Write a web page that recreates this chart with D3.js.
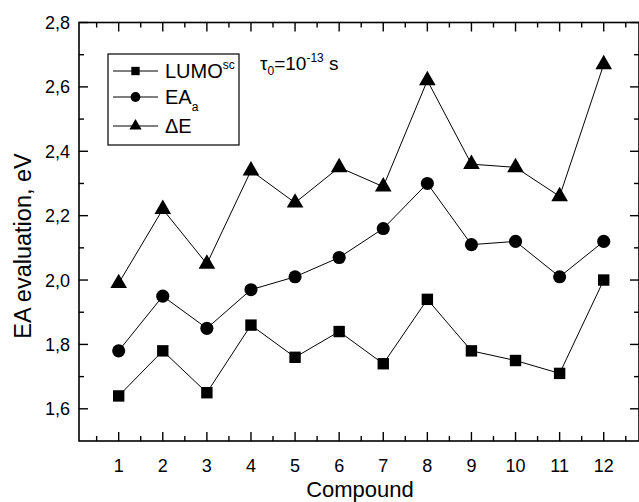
<!DOCTYPE html>
<html>
<head>
<meta charset="utf-8">
<script src="https://cdn.jsdelivr.net/npm/d3@7"></script>
<style>
  html, body { margin: 0; padding: 0; background: #fff; }
  svg { display: block; font-family: Arial, "Liberation Sans", sans-serif; }
</style>
</head>
<body>
<svg id="chart" width="639" height="502"></svg>
<script>
// Compound numbers along the x axis
const compounds = [1, 2, 3, 4, 5, 6, 7, 8, 9, 10, 11, 12];
// LUMO^sc estimates, eV
const lumoSc = [1.64, 1.78, 1.65, 1.86, 1.76, 1.84, 1.74, 1.94, 1.78, 1.75, 1.71, 2.00];
// EA_a estimates, eV
const eaA = [1.78, 1.95, 1.85, 1.97, 2.01, 2.07, 2.16, 2.30, 2.11, 2.12, 2.01, 2.12];
// ΔE estimates, eV
const deltaE = [1.99, 2.22, 2.05, 2.34, 2.24, 2.35, 2.29, 2.62, 2.36, 2.35, 2.26, 2.67];
// Tick values
const yTicks = [1.6, 1.8, 2.0, 2.2, 2.4, 2.6, 2.8];

const svg = d3.select("#chart");
const plotL = 79, plotR = 639, plotT = 22.5, plotB = 441;

const x = d3.scaleLinear().domain([0.1, 12.8]).range([plotL, plotR]);
const y = d3.scaleLinear().domain([1.5, 2.8]).range([plotB, plotT]);
const fmt = v => d3.format(".1f")(v).replace(".", ",");

const g = svg.append("g");

// Frame
g.append("rect").attr("x", plotL).attr("y", plotT)
  .attr("width", plotR - plotL).attr("height", plotB - plotT)
  .attr("fill", "none").attr("stroke", "#000").attr("stroke-width", 1.6);

// X ticks (major at integers, minor at halves), inward on bottom and top
const xMajor = compounds;
const xMinor = d3.range(0.5, 12.8, 1);
[[xMajor, 9], [xMinor, 5]].forEach(([vals, len]) => {
  vals.forEach(v => {
    g.append("line").attr("x1", x(v)).attr("x2", x(v))
      .attr("y1", plotB).attr("y2", plotB - len).attr("stroke", "#000").attr("stroke-width", 1.4);
    g.append("line").attr("x1", x(v)).attr("x2", x(v))
      .attr("y1", plotT).attr("y2", plotT + len).attr("stroke", "#000").attr("stroke-width", 1.4);
  });
});
// Y ticks (major every 0.2, minor between)
const yMinor = d3.range(1.7, 2.8, 0.2);
[[yTicks, 9], [yMinor, 5]].forEach(([vals, len]) => {
  vals.forEach(v => {
    g.append("line").attr("x1", plotL).attr("x2", plotL + len)
      .attr("y1", y(v)).attr("y2", y(v)).attr("stroke", "#000").attr("stroke-width", 1.4);
    g.append("line").attr("x1", plotR).attr("x2", plotR - len)
      .attr("y1", y(v)).attr("y2", y(v)).attr("stroke", "#000").attr("stroke-width", 1.4);
  });
});

// Tick labels
g.selectAll("text.xl").data(xMajor).join("text")
  .attr("x", d => x(d)).attr("y", plotB + 31)
  .attr("text-anchor", "middle").attr("font-size", 18).text(d => d);
g.selectAll("text.yl").data(yTicks).join("text")
  .attr("x", plotL - 9).attr("y", d => y(d) + 6.5)
  .attr("text-anchor", "end").attr("font-size", 18).text(fmt);

// Axis titles
g.append("text").attr("x", 360).attr("y", 497)
  .attr("text-anchor", "middle").attr("font-size", 22).text("Compound");
g.append("text").attr("transform", "translate(30.5,246) rotate(-90)")
  .attr("text-anchor", "middle").attr("font-size", 23.5).text("EA evaluation, eV");

// Marker shapes
const sym = {
  square: d3.symbol().type(d3.symbolSquare).size(130),
  circle: d3.symbol().type(d3.symbolCircle).size(135),
  triangle: d3.symbol().type(d3.symbolTriangle).size(120)
};

const series = [
  { name: "LUMO", values: lumoSc, shape: "square" },
  { name: "EA", values: eaA, shape: "circle" },
  { name: "dE", values: deltaE, shape: "triangle" }
];

const line = d3.line().x((d, i) => x(compounds[i])).y(d => y(d));

series.forEach(s => {
  g.append("path").attr("d", line(s.values))
    .attr("fill", "none").attr("stroke", "#000").attr("stroke-width", 1);
  g.selectAll(null).data(s.values).join("path")
    .attr("transform", (d, i) => `translate(${x(compounds[i])},${y(d)})`)
    .attr("d", sym[s.shape]()).attr("fill", "#000");
});

// Legend
const lg = g.append("g");
lg.append("rect").attr("x", 108).attr("y", 54).attr("width", 131).attr("height", 91)
  .attr("fill", "#fff").attr("stroke", "#000").attr("stroke-width", 1.2);
const legRows = [
  { shape: "square", y: 71 },
  { shape: "circle", y: 97 },
  { shape: "triangle", y: 126 }
];
const legSize = { square: 70, circle: 75, triangle: 65 };
const legType = { square: d3.symbolSquare, circle: d3.symbolCircle, triangle: d3.symbolTriangle };
legRows.forEach(r => {
  lg.append("line").attr("x1", 113).attr("x2", 158).attr("y1", r.y).attr("y2", r.y)
    .attr("stroke", "#000").attr("stroke-width", 1);
  lg.append("path").attr("transform", `translate(135.5,${r.y})`)
    .attr("d", d3.symbol().type(legType[r.shape]).size(legSize[r.shape])())
    .attr("fill", "#000");
});
const t1 = lg.append("text").attr("x", 165).attr("y", 78).attr("font-size", 20);
t1.append("tspan").text("LUMO");
t1.append("tspan").attr("font-size", 12).attr("dy", -9).text("sc");
const t2 = lg.append("text").attr("x", 165).attr("y", 104).attr("font-size", 20);
t2.append("tspan").text("EA");
t2.append("tspan").attr("font-size", 12).attr("dy", 7).text("a");
lg.append("text").attr("x", 165).attr("y", 133).attr("font-size", 20).text("\u0394E");

// Relaxation time annotation
const tau = g.append("text").attr("x", 260).attr("y", 70).attr("font-size", 19);
tau.append("tspan").text("\u03C4");
tau.append("tspan").attr("font-size", 12).attr("dy", 5).text("0");
tau.append("tspan").attr("dy", -5).text("=10");
tau.append("tspan").attr("font-size", 12).attr("dy", -8).text("-13");
tau.append("tspan").attr("dy", 8).text(" s");
</script>
</body>
</html>
